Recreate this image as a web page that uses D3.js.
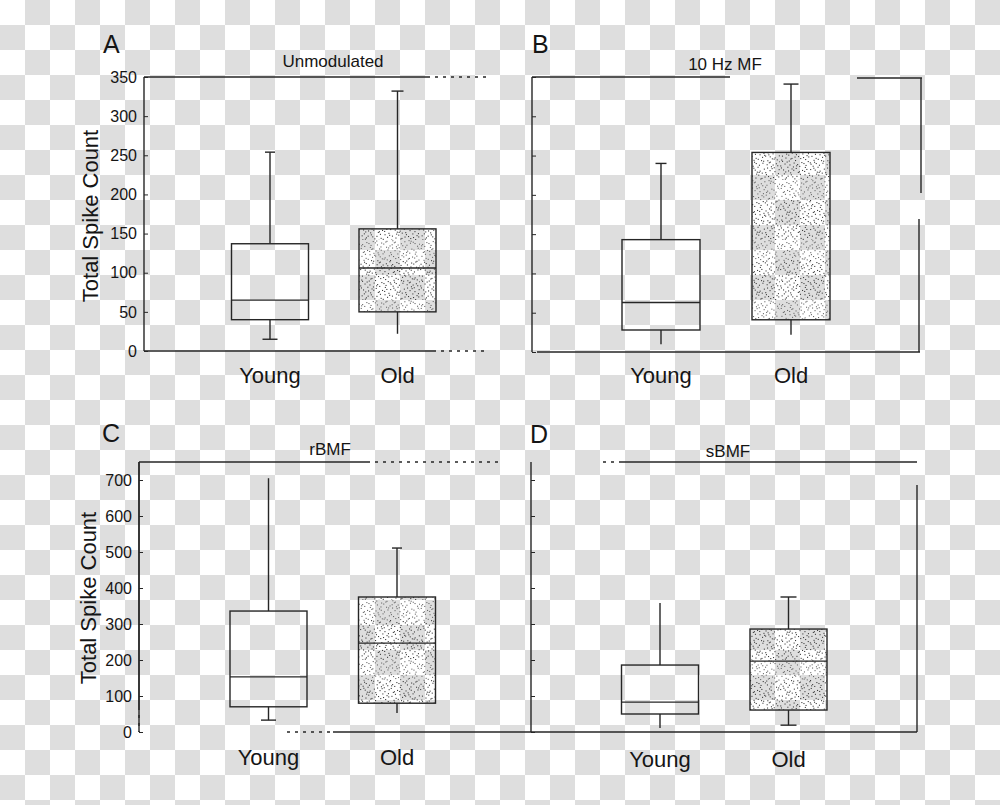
<!DOCTYPE html>
<html><head><meta charset="utf-8">
<script src="https://cdn.jsdelivr.net/npm/d3@7/dist/d3.min.js"></script>
<style>
html,body{margin:0;padding:0;background:#fff;}
svg{display:block;}
text{font-family:"Liberation Sans",Arial,sans-serif;fill:#151515;}
</style></head>
<body>
<svg id="chart" width="1000" height="805"></svg>
<script>
// ---------------- DATA ----------------
const categories = ["Young", "Old"];
const panelLetters = ["A", "B", "C", "D"];
const panelTitles = ["Unmodulated", "10 Hz MF", "rBMF", "sBMF"];
const yTicksTop = [0, 50, 100, 150, 200, 250, 300, 350];
const yTicksBottom = [0, 100, 200, 300, 400, 500, 600, 700];
const yLabel = "Total Spike Count";
// box stats: [lower whisker, Q1, median, Q3, upper whisker]
const unmodYoung = [15, 40, 65, 137, 254];
const unmodOld   = [22, 50, 106, 156, 332];
const mf10Young  = [10, 28, 63, 143, 240];
const mf10Old    = [22, 41, null, 254, 341];
const rbmfYoung  = [33, 70, 153, 336, 705];
const rbmfOld    = [53, 80, 247, 375, 511];
const sbmfYoung  = [11, 50, 83, 186, 358];
const sbmfOld    = [19, 61, 197, 286, 375];

// ---------------- LAYOUT ----------------
const panels = [
  {letter:0, data:[unmodYoung, unmodOld], ticks:yTicksTop, domain:[0,350], yr:[351,77], xr:[270,397.5], bw:77,
   axisX:144, labels:true, ylab:{x:98,y:216}, title:{x:333,y:67}, let:{x:103,y:53}, cat:383,
   caps:[[10,15],[12,0]],
   segs:[[144,77,427,77,0],[427,77,487,77,1],[144,351,433,351,0],[433,351,484,351,1]]},
  {letter:1, data:[mf10Young, mf10Old], ticks:yTicksTop, domain:[0,350], yr:[352,77], xr:[661,791], bw:78,
   axisX:532, labels:false, title:{x:725,y:70}, let:{x:532,y:53}, cat:383,
   caps:[[11,0],[15,0]],
   segs:[[532,77,730,77,0],[857,78,922,78,0],[921,78,921,193,0],[919,219,919,352,0],[537,352,920,352,0]]},
  {letter:2, data:[rbmfYoung, rbmfOld], ticks:yTicksBottom, domain:[0,750], yr:[732,462], xr:[268.5,397], bw:77,
   axisX:139, labels:true, ylab:{x:96,y:598}, title:{x:330,y:455}, let:{x:102,y:442}, cat:765,
   caps:[[0,15],[10,0]],
   segs:[[139,462,367,462,0],[367,462,500,462,1],[139,462,139,707,0],[139,707,139,732,1],[287,732,333,732,1],[333,732,500,732,0]]},
  {letter:3, data:[sbmfYoung, sbmfOld], ticks:yTicksBottom, domain:[0,750], yr:[732,462], xr:[660,788.5], bw:77,
   axisX:531, labels:false, title:{x:728,y:457}, let:{x:530,y:443}, cat:767,
   caps:[[0,0],[16,16]],
   segs:[[603,462,620,462,1],[620,462,917,462,0],[917,485,917,732,0],[500,732,917,732,0]]}
];

const svg = d3.select("#chart");
const defs = svg.append("defs");

// checkerboard background
const chk = defs.append("pattern").attr("id","chk").attr("patternUnits","userSpaceOnUse")
  .attr("width",50).attr("height",50);
chk.append("rect").attr("width",50).attr("height",50).attr("fill","#ffffff");
chk.append("rect").attr("x",25).attr("y",0).attr("width",25).attr("height",25).attr("fill","#dedede");
chk.append("rect").attr("x",0).attr("y",25).attr("width",25).attr("height",25).attr("fill","#dedede");
svg.append("rect").attr("width",1000).attr("height",805).attr("fill","url(#chk)");

// stipple texture (deterministic Halton sequence)
function halton(i, b){ let f=1, r=0; while(i>0){ f/=b; r+=f*(i%b); i=Math.floor(i/b);} return r; }
const stip = defs.append("pattern").attr("id","stip").attr("patternUnits","userSpaceOnUse")
  .attr("width",60).attr("height",60);
for(let i=1;i<=300;i++){
  stip.append("rect").attr("x",(halton(i,2)*60).toFixed(1)).attr("y",(halton(i,3)*60).toFixed(1))
    .attr("width",1.1).attr("height",1.1).attr("fill", i%3===0 ? "#6a6a6a" : "#3e3e3e");
}

const ink = "#262626";
const sw = 1.4;

panels.forEach(p => {
  const g = svg.append("g");
  const y = d3.scaleLinear().domain(p.domain).range(p.yr);
  const x = d3.scalePoint().domain(categories).range(p.xr);

  // frame pieces
  p.segs.forEach(s => {
    g.append("line").attr("x1",s[0]).attr("y1",s[1]).attr("x2",s[2]).attr("y2",s[3])
      .attr("stroke",ink).attr("stroke-width",sw)
      .attr("stroke-dasharray", s[4] ? "3,5" : null);
  });

  // y axis (inward ticks)
  const axis = d3.axisRight(y).tickValues(p.ticks).tickSize(4).tickFormat("");
  const ag = g.append("g").attr("transform",`translate(${p.axisX},0)`).call(axis);
  ag.select(".domain").attr("d", `M0,${y(p.domain[1])}V${y(0)}`).attr("stroke",ink).attr("stroke-width",sw);
  ag.selectAll(".tick line").attr("stroke",ink).attr("stroke-width",1);
  if(p.labels){
    g.selectAll(".tl").data(p.ticks).join("text")
      .attr("x",p.axisX-7).attr("y",d=>y(d)).attr("dy","0.36em")
      .attr("text-anchor","end").attr("font-size",16).text(d=>d);
    g.append("text").attr("transform",`translate(${p.ylab.x},${p.ylab.y}) rotate(-90)`)
      .attr("text-anchor","middle").attr("font-size",22).text(yLabel);
  }

  // title and letter
  g.append("text").attr("x",p.title.x).attr("y",p.title.y).attr("text-anchor","middle")
    .attr("font-size",17).text(panelTitles[p.letter]);
  g.append("text").attr("x",p.let.x).attr("y",p.let.y).attr("font-size",25).text(panelLetters[p.letter]);

  // category labels
  g.selectAll(".cl").data(categories).join("text")
    .attr("x",d=>x(d)).attr("y",p.cat).attr("text-anchor","middle").attr("font-size",22).text(d=>d);

  // boxes
  p.data.forEach((st, i) => {
    const cx = x(categories[i]);
    const bw = p.bw;
    const [lo, q1, med, q3, hi] = st;
    g.append("line").attr("x1",cx).attr("x2",cx).attr("y1",y(q3)).attr("y2",y(hi))
      .attr("stroke",ink).attr("stroke-width",sw);
    g.append("line").attr("x1",cx).attr("x2",cx).attr("y1",y(q1)).attr("y2",y(lo))
      .attr("stroke",ink).attr("stroke-width",sw);
    const [ct, cb] = p.caps[i];
    if(ct) g.append("line").attr("x1",cx-ct/2).attr("x2",cx+ct/2).attr("y1",y(hi)).attr("y2",y(hi))
      .attr("stroke",ink).attr("stroke-width",sw);
    if(cb) g.append("line").attr("x1",cx-cb/2).attr("x2",cx+cb/2).attr("y1",y(lo)).attr("y2",y(lo))
      .attr("stroke",ink).attr("stroke-width",sw);
    g.append("rect").attr("x",cx-bw/2).attr("y",y(q3)).attr("width",bw).attr("height",y(q1)-y(q3))
      .attr("fill", i===1 ? "url(#stip)" : "none").attr("stroke",ink).attr("stroke-width",sw);
    if(med !== null)
      g.append("line").attr("x1",cx-bw/2).attr("x2",cx+bw/2).attr("y1",y(med)).attr("y2",y(med))
        .attr("stroke",ink).attr("stroke-width",sw);
  });
});
</script>
</body></html>
